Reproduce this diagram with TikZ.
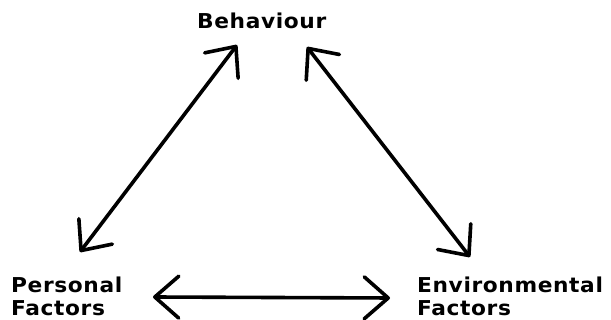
\documentclass[tikz,border=0pt]{standalone}
\usepackage{fontspec}
\setmainfont{DejaVu Sans}[FakeStretch=1.06, LetterSpace=3]
\usetikzlibrary{arrows.meta}
\tikzset{
  label text/.style={font=\bfseries\fontsize{20.5}{23.5}\selectfont, inner sep=0pt, align=left},
  barb/.tip={Straight Barb[length=24pt,width=42pt,line cap=round,line join=round]},
  link/.style={line width=3.6pt, line cap=round, line join=round, barb-barb}
}
\begin{document}
\begin{tikzpicture}[x=1pt,y=1pt]
  \useasboundingbox[fill=white] (0,0) rectangle (611,320);
  % labels
  \node[label text, anchor=base west] (beh) at (197,291) {Behaviour};
  \node[label text, anchor=north west] (pers) at (11,43.5) {Personal\\Factors};
  \node[label text, anchor=north west] (env) at (417,43.5) {Environmental\\Factors};
  % arrow end points
  \coordinate (bl) at (237,275);
  \coordinate (pt) at (80,68);
  \coordinate (br) at (307,273);
  \coordinate (et) at (470,63);
  \coordinate (pr) at (153,23);
  \coordinate (el) at (390,22);
  % two-way links
  \draw[link] (pt) -- (bl);
  \draw[link] (br) -- (et);
  \draw[link] (pr) -- (el);
\end{tikzpicture}
\end{document}
